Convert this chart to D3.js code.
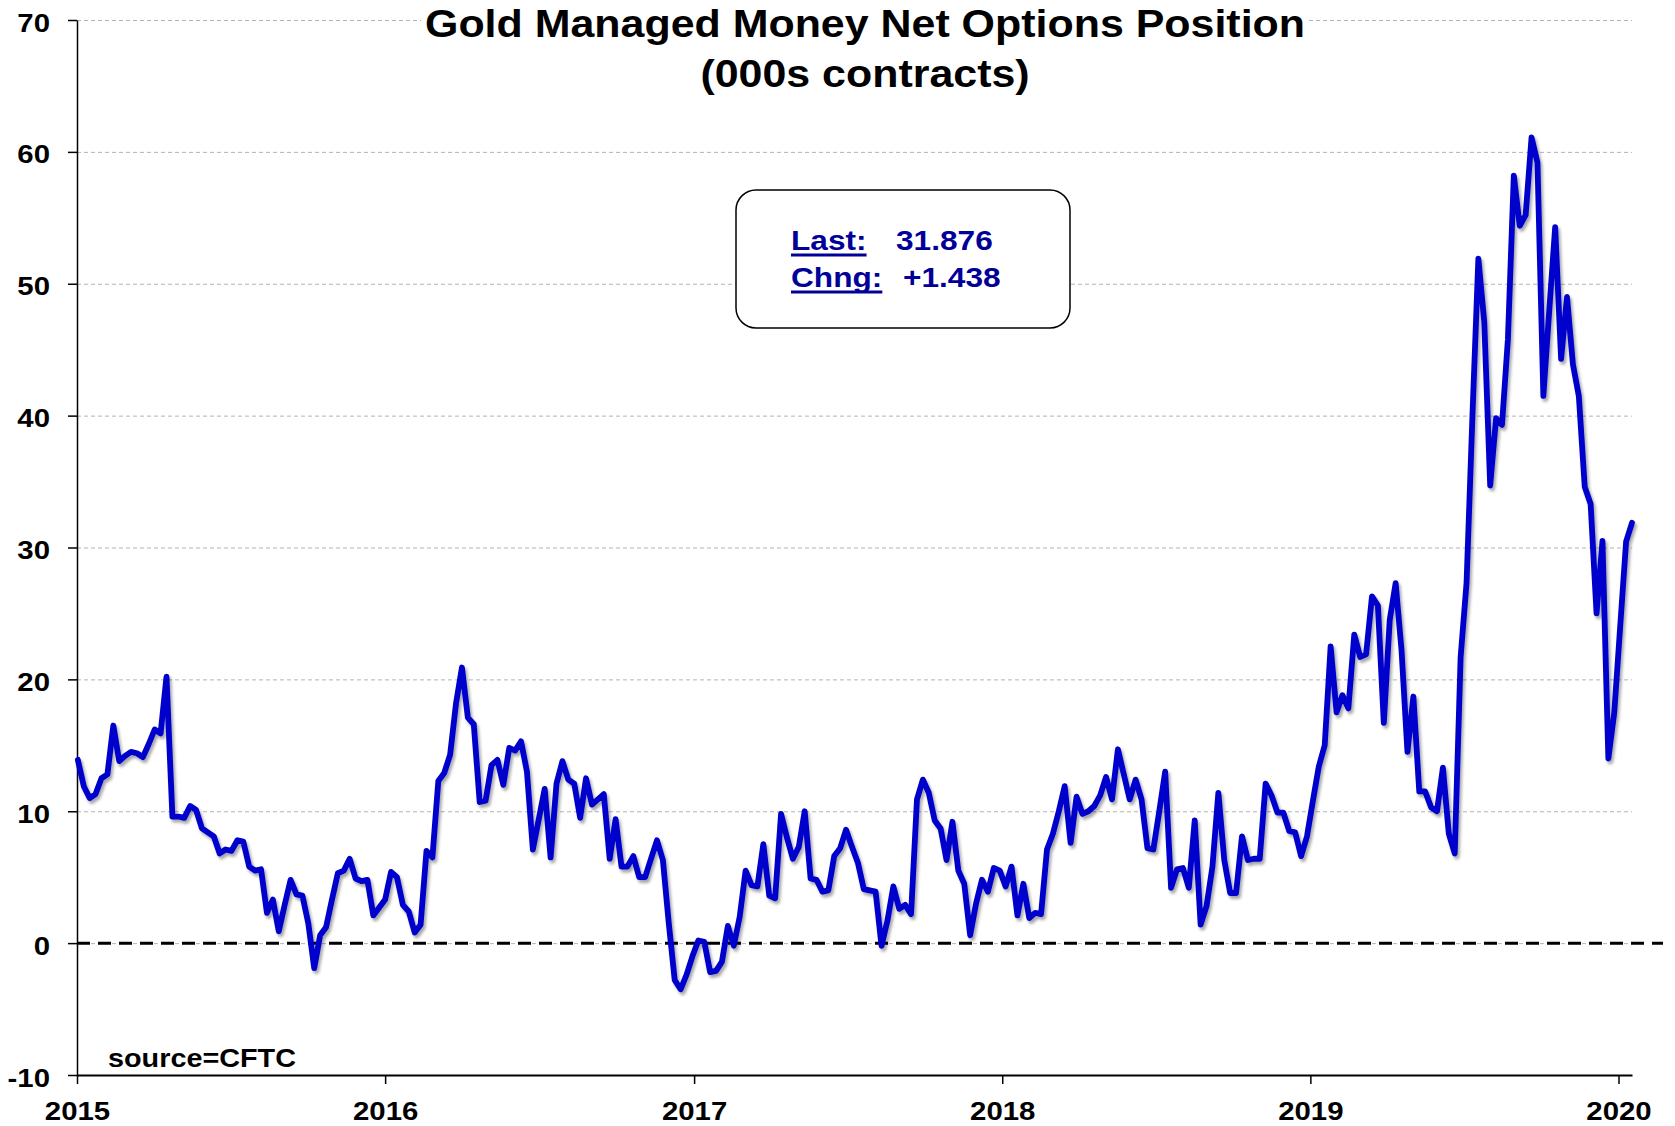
<!DOCTYPE html>
<html>
<head>
<meta charset="utf-8">
<script src="https://cdn.jsdelivr.net/npm/d3@7"></script>
<style>
    html, body { margin: 0; padding: 0; background: #fff; }
    svg { display: block; font-family: "Liberation Sans", Arial, Helvetica, sans-serif; font-weight: bold; }
</style>
</head>
<body>
<svg id="chart" width="1675" height="1126"></svg>
<script>
// Gold managed money net options position, 000s contracts.
// Weekly (Friday) values, one array per calendar year.
const FIRST_FRIDAY = Date.UTC(2015, 0, 2);

const weeks2015 = [
    13.9, 11.9, 11.0, 11.3, 12.5, 12.8, 16.5, 13.8, 14.2, 14.5,
    14.4, 14.1, 15.1, 16.2, 15.9, 20.2, 9.6, 9.6, 9.5, 10.4,
    10.1, 8.7, 8.4, 8.1, 6.8, 7.1, 7.0, 7.8, 7.7, 5.8,
    5.5, 5.6, 2.3, 3.3, 0.9, 2.9, 4.8, 3.7, 3.6, 1.5,
    -1.9, 0.6, 1.2, 3.3, 5.3, 5.5, 6.4, 4.9, 4.7, 4.8,
    2.1, 2.7,
];
const weeks2016 = [
    3.3, 5.4, 5.0, 2.9, 2.4, 0.8, 1.4, 7.0, 6.5, 12.3,
    12.9, 14.3, 18.2, 20.9, 17.1, 16.6, 10.7, 10.8, 13.5, 13.9,
    12.0, 14.8, 14.6, 15.3, 13.0, 7.1, 9.4, 11.7, 6.5, 12.1,
    13.8, 12.4, 12.1, 9.5, 12.5, 10.5, 10.9, 11.3, 6.4, 9.4,
    5.8, 5.8, 6.6, 5.0, 5.0, 6.4, 7.8, 6.3, 1.5, -2.8,
    -3.5, -2.4, -1.0,
];
const weeks2017 = [
    0.2, 0.1, -2.2, -2.1, -1.4, 1.3, -0.2, 2.0, 5.5, 4.4,
    4.3, 7.5, 3.6, 3.4, 9.8, 8.0, 6.4, 7.3, 10.0, 4.9,
    4.8, 3.9, 4.0, 6.6, 7.2, 8.6, 7.3, 6.1, 4.1, 4.0,
    3.9, -0.2, 1.7, 4.3, 2.6, 2.9, 2.2, 10.9, 12.4, 11.4,
    9.3, 8.7, 6.3, 9.2, 5.5, 4.5, 0.6, 3.0, 4.8, 3.9,
    5.7, 5.5,
];
const weeks2018 = [
    4.3, 5.8, 2.1, 4.5, 1.9, 2.3, 2.2, 7.1, 8.3, 10.0,
    11.9, 7.6, 11.1, 9.8, 10.0, 10.4, 11.2, 12.6, 10.9, 14.7,
    12.8, 10.9, 12.4, 10.9, 7.2, 7.1, 10.0, 13.0, 4.2, 5.6,
    5.7, 4.2, 9.3, 1.4, 2.8, 5.8, 11.4, 6.3, 3.8, 3.8,
    8.1, 6.3, 6.4, 6.4, 12.1, 11.2, 9.9, 9.9, 8.5, 8.4,
    6.6, 8.1,
];
const weeks2019 = [
    10.8, 13.4, 15.0, 22.5, 17.5, 18.8, 17.8, 23.4, 21.7, 21.9,
    26.3, 25.6, 16.7, 24.5, 27.3, 22.2, 14.5, 18.7, 11.5, 11.5,
    10.3, 10.0, 13.3, 8.3, 6.8, 21.7, 27.3, 40.0, 51.9, 47.1,
    34.7, 39.8, 39.3, 45.8, 58.2, 54.4, 55.2, 61.1, 59.2, 41.5,
    48.0, 54.3, 44.3, 49.0, 43.9, 41.5, 34.6, 33.3, 25.0, 30.5,
    14.0, 17.5,
];
const weeks2020 = [24.0, 30.438, 31.876];

const yTicks = [-10, 0, 10, 20, 30, 40, 50, 60, 70];
const gridValues = [0, 10, 20, 30, 40, 50, 60, 70];
const titleLines = ['Gold Managed Money Net Options Position', '(000s contracts)'];
const lastValue = '31.876';
const changeValue = '+1.438';
const sourceText = 'source=CFTC';

// ---- layout ----
const W = 1675;
const H = 1126;
const M = { left: 77, right: 1632, top: 20, bottom: 1075 };
const SX = 1.13;            // the original export is stretched sideways, text follows it
const BLUE = '#0000cc';
const NAVY = '#000099';

const series = [weeks2015, weeks2016, weeks2017, weeks2018, weeks2019, weeks2020]
    .flat()
    .map((v, i) => ({ date: new Date(FIRST_FRIDAY + i * 7 * 864e5), value: v }));

const x = d3.scaleUtc()
    .domain([Date.UTC(2015, 0, 1), Date.UTC(2020, 0, 17)])
    .range([M.left, M.right]);
const y = d3.scaleLinear().domain([-10, 70]).range([M.bottom, M.top]);

const svg = d3.select('#chart');
svg.append('rect').attr('width', W).attr('height', H).attr('fill', '#fff');

const defs = svg.append('defs');
defs.append('filter').attr('id', 'shade')
    .attr('x', '-2%').attr('y', '-2%').attr('width', '104%').attr('height', '104%')
    .append('feDropShadow')
    .attr('dx', 2).attr('dy', 3).attr('stdDeviation', 1.6)
    .attr('flood-color', '#000').attr('flood-opacity', 0.35);

function stretchedText(g, px, py, str, size, anchor, fill) {
    return g.append('text')
        .attr('transform', `translate(${px},${py}) scale(${SX},1)`)
        .attr('text-anchor', anchor)
        .attr('font-size', size)
        .attr('fill', fill || '#000')
        .text(str);
}

// gridlines
const grid = svg.append('g').attr('transform', `translate(${M.left},0)`)
    .call(d3.axisLeft(y).tickValues(gridValues).tickSize(-(M.right - M.left)).tickFormat(''));
grid.select('.domain').remove();
grid.selectAll('.tick line')
    .attr('stroke', '#b4b4b4')
    .attr('stroke-width', 1)
    .attr('stroke-dasharray', '4,3');

// zero line, runs past the plot edge as in the original
svg.append('line')
    .attr('x1', M.left).attr('x2', M.right + 31)
    .attr('y1', y(0)).attr('y2', y(0))
    .attr('stroke', '#000')
    .attr('stroke-width', 3)
    .attr('stroke-dasharray', '13,8');

// axes
const fontFamily = '"Liberation Sans", Arial, Helvetica, sans-serif';

const yAxis = svg.append('g').attr('transform', `translate(${M.left},0)`)
    .call(d3.axisLeft(y).tickValues(yTicks).tickSize(9).tickSizeOuter(0).tickFormat((d) => String(d)));
yAxis.attr('font-family', fontFamily).attr('font-size', 26).attr('font-weight', 'bold');
yAxis.selectAll('.domain, .tick line').attr('stroke', '#000').attr('stroke-width', 1.5);
yAxis.selectAll('.tick text')
    .attr('x', null).attr('dy', null)
    .attr('fill', '#000')
    .attr('transform', `translate(-27,11) scale(${SX},1)`);

const xAxis = svg.append('g').attr('transform', `translate(0,${M.bottom})`)
    .call(d3.axisBottom(x).ticks(d3.utcYear.every(1)).tickFormat(d3.utcFormat('%Y'))
        .tickSize(9).tickSizeOuter(0));
xAxis.attr('font-family', fontFamily).attr('font-size', 26).attr('font-weight', 'bold');
xAxis.selectAll('.domain').attr('stroke', '#000').attr('stroke-width', 2);
xAxis.selectAll('.tick line').attr('stroke', '#000').attr('stroke-width', 1.5);
xAxis.selectAll('.tick text')
    .attr('y', null).attr('dy', null)
    .attr('fill', '#000')
    .attr('transform', `translate(0,45) scale(${SX},1)`);

// the series
const line = d3.line().x((d) => x(d.date)).y((d) => y(d.value));
svg.append('path')
    .datum(series)
    .attr('d', line)
    .attr('fill', 'none')
    .attr('stroke', BLUE)
    .attr('stroke-width', 5.8)
    .attr('stroke-linejoin', 'round')
    .attr('stroke-linecap', 'round')
    .attr('filter', 'url(#shade)');

// title, with a white patch so the top gridline stops at the text
const titleG = svg.append('g');
const titleBg = titleG.append('rect').attr('fill', '#fff');
const t1 = stretchedText(titleG, 865, 37, titleLines[0], 38, 'middle');
stretchedText(titleG, 865, 87, titleLines[1], 38, 'middle');
const t1w = t1.node().getComputedTextLength() * SX;
titleBg.attr('x', 865 - t1w / 2 - 4).attr('y', 0).attr('width', t1w + 8).attr('height', 44);

// last / change box
const box = svg.append('g');
box.append('rect')
    .attr('x', 736).attr('y', 190).attr('width', 334).attr('height', 138).attr('rx', 20)
    .attr('fill', '#fff').attr('stroke', '#000').attr('stroke-width', 1.5);
const rows = [
    { key: 'Last:', val: lastValue, y: 250, valX: 896 },
    { key: 'Chng:', val: changeValue, y: 287, valX: 903 },
];
rows.forEach((r) => {
    const k = stretchedText(box, 791, r.y, r.key, 28, 'start', NAVY);
    const kw = k.node().getComputedTextLength() * SX;
    box.append('line')
        .attr('x1', 791).attr('x2', 791 + kw)
        .attr('y1', r.y + 5).attr('y2', r.y + 5)
        .attr('stroke', NAVY).attr('stroke-width', 3);
    stretchedText(box, r.valX, r.y, r.val, 28, 'start', NAVY);
});

stretchedText(svg, 108, 1067, sourceText, 25.5, 'start');
</script>
</body>
</html>
